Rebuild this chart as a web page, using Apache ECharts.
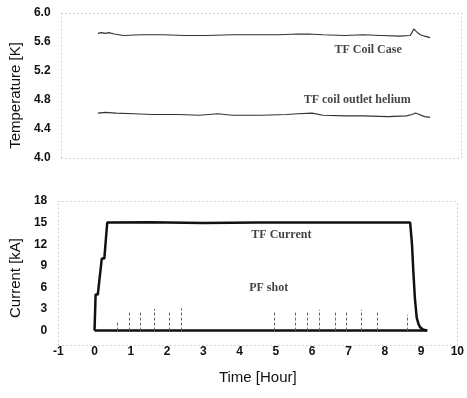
<!DOCTYPE html>
<html>
<head>
<meta charset="utf-8">
<script src="https://cdn.jsdelivr.net/npm/echarts@6/dist/echarts.min.js"></script>
<style>
  html, body { margin: 0; padding: 0; background: #ffffff; }
  #chart { width: 467px; height: 398px; }
</style>
</head>
<body>
<div id="chart"></div>
<script>
// Top panel: temperatures [x in hour, T in K]
const coilCase = [
  [0, 5.72], [0.1, 5.73], [0.2, 5.72], [0.3, 5.73], [0.45, 5.71], [0.7, 5.69],
  [1.2, 5.70], [1.8, 5.70], [2.4, 5.69], [3, 5.69], [3.7, 5.70], [4.3, 5.70],
  [5.0, 5.70], [5.5, 5.71], [5.8, 5.71], [6.2, 5.70], [6.8, 5.69], [7.3, 5.70],
  [7.8, 5.69], [8.3, 5.68], [8.6, 5.69], [8.66, 5.74], [8.70, 5.78], [8.78, 5.74],
  [8.88, 5.70], [9.0, 5.68], [9.15, 5.66]
];
const outletHelium = [
  [0, 4.62], [0.2, 4.63], [0.5, 4.62], [1, 4.61], [1.5, 4.60], [2.2, 4.60],
  [2.8, 4.59], [3.3, 4.61], [3.7, 4.59], [4.5, 4.59], [5.2, 4.60], [5.5, 4.61],
  [5.9, 4.62], [6.2, 4.59], [6.8, 4.58], [7.3, 4.58], [8.0, 4.57], [8.5, 4.58],
  [8.65, 4.60], [8.75, 4.62], [8.85, 4.60], [9.0, 4.57], [9.15, 4.56]
];

// Bottom panel: currents [x in hour, I in kA]
const tfCurrent = [
  [0, 0], [0.03, 5], [0.09, 5], [0.2, 10], [0.27, 10], [0.35, 15], [1.5, 15.05],
  [3, 14.95], [4.5, 15], [6, 15], [8.7, 15], [8.75, 12], [8.79, 8], [8.83, 4.5],
  [8.88, 1.8], [8.93, 0.9], [8.97, 0.5], [9.05, 0.15], [9.17, 0]
];
const baseline = [[0, 0], [9.17, 0]];
const pfShotTimes = [0.64, 0.95, 1.27, 1.65, 2.07, 2.40, 4.94, 5.53, 5.86, 6.19, 6.63, 6.93, 7.36, 7.79, 8.61];
const pfShotHeights = [1.3, 2.7, 2.7, 3.0, 2.7, 3.1, 2.5, 2.8, 2.7, 2.9, 2.5, 2.6, 2.9, 2.5, 2.2];

const currentTicks = [0, 3, 6, 9, 12, 15, 18];

// Annotation text placed in data coordinates
const topNotes = [[7.44, 5.49, 'TF Coil Case'], [7.14, 4.80, 'TF coil outlet helium']];
const bottomNotes = [[5.15, 13.3, 'TF Current'], [4.80, 5.96, 'PF shot']];

const frame = { show: true, onZero: false, lineStyle: { color: '#cccccc', type: [1, 3], width: 1 } };
const tickFont = { color: '#111', fontFamily: 'Liberation Sans', fontWeight: 'bold', fontSize: 12 };
const nameFont = { color: '#111', fontFamily: 'Liberation Sans', fontSize: 15 };
const noteLabel = {
  show: true, position: 'inside', formatter: p => p.value[2],
  color: '#111', fontFamily: 'Liberation Serif', fontWeight: 'bold', fontSize: 12
};

const chart = echarts.init(document.getElementById('chart'));
chart.setOption({
  animation: false,
  backgroundColor: '#ffffff',
  grid: [
    { left: 56, right: 6, top: 13, height: 145 },
    { left: 56, right: 6, top: 201, height: 144 }
  ],
  xAxis: [
    { gridIndex: 0, type: 'value', min: -1, max: 10, interval: 1, position: 'bottom',
      axisLine: frame, axisTick: { show: false }, axisLabel: { show: false }, splitLine: { show: false } },
    { gridIndex: 0, type: 'value', min: -1, max: 10, position: 'top',
      axisLine: frame, axisTick: { show: false }, axisLabel: { show: false }, splitLine: { show: false } },
    { gridIndex: 1, type: 'value', min: -1, max: 10, interval: 1, position: 'bottom',
      axisLine: frame, axisTick: { show: false }, splitLine: { show: false },
      axisLabel: Object.assign({ margin: 1 }, tickFont),
      name: 'Time [Hour]', nameLocation: 'middle', nameGap: 25, nameTextStyle: nameFont },
    { gridIndex: 1, type: 'value', min: -1, max: 10, position: 'top',
      axisLine: frame, axisTick: { show: false }, axisLabel: { show: false }, splitLine: { show: false } }
  ],
  yAxis: [
    { gridIndex: 0, type: 'value', min: 4.0, max: 6.0, interval: 0.4, position: 'left',
      axisLine: frame, axisTick: { show: false }, splitLine: { show: false },
      axisLabel: Object.assign({ margin: 11, formatter: v => v.toFixed(1) }, tickFont),
      name: 'Temperature [K]', nameLocation: 'middle', nameGap: 31,
      nameTextStyle: Object.assign({ padding: [0, 20, 0, 0] }, nameFont) },
    { gridIndex: 0, type: 'value', min: 4.0, max: 6.0, position: 'right',
      axisLine: frame, axisTick: { show: false }, axisLabel: { show: false }, splitLine: { show: false } },
    { gridIndex: 1, type: 'value', min: -2, max: 18, position: 'left',
      axisLine: frame, axisTick: { show: false }, splitLine: { show: false },
      axisLabel: Object.assign({ margin: 11, customValues: currentTicks }, tickFont),
      name: 'Current [kA]', nameLocation: 'middle', nameGap: 31,
      nameTextStyle: Object.assign({ padding: [0, 10, 0, 0] }, nameFont) },
    { gridIndex: 1, type: 'value', min: -2, max: 18, position: 'right',
      axisLine: frame, axisTick: { show: false }, axisLabel: { show: false }, splitLine: { show: false } }
  ],
  series: [
    { name: 'TF Coil Case', type: 'line', xAxisIndex: 0, yAxisIndex: 0, data: coilCase,
      showSymbol: false, lineStyle: { color: '#333', width: 1.2 } },
    { name: 'TF coil outlet helium', type: 'line', xAxisIndex: 0, yAxisIndex: 0, data: outletHelium,
      showSymbol: false, lineStyle: { color: '#333', width: 1.2 } },
    { type: 'scatter', xAxisIndex: 0, yAxisIndex: 0, data: topNotes, symbolSize: 0, label: noteLabel, silent: true },
    { name: 'PF baseline', type: 'line', xAxisIndex: 2, yAxisIndex: 2, data: baseline,
      showSymbol: false, lineStyle: { color: '#111', width: 2.5 },
      markLine: {
        silent: true, symbol: ['none', 'none'], label: { show: false },
        lineStyle: { color: '#666', type: [3, 2], width: 1 },
        data: pfShotTimes.map((t, i) => [{ coord: [t, 0] }, { coord: [t, pfShotHeights[i]] }])
      } },
    { name: 'TF Current', type: 'line', xAxisIndex: 2, yAxisIndex: 2, data: tfCurrent,
      showSymbol: false, lineStyle: { color: '#111', width: 2.5 } },
    { type: 'scatter', xAxisIndex: 2, yAxisIndex: 2, data: bottomNotes, symbolSize: 0, label: noteLabel, silent: true }
  ]
});
</script>
</body>
</html>
